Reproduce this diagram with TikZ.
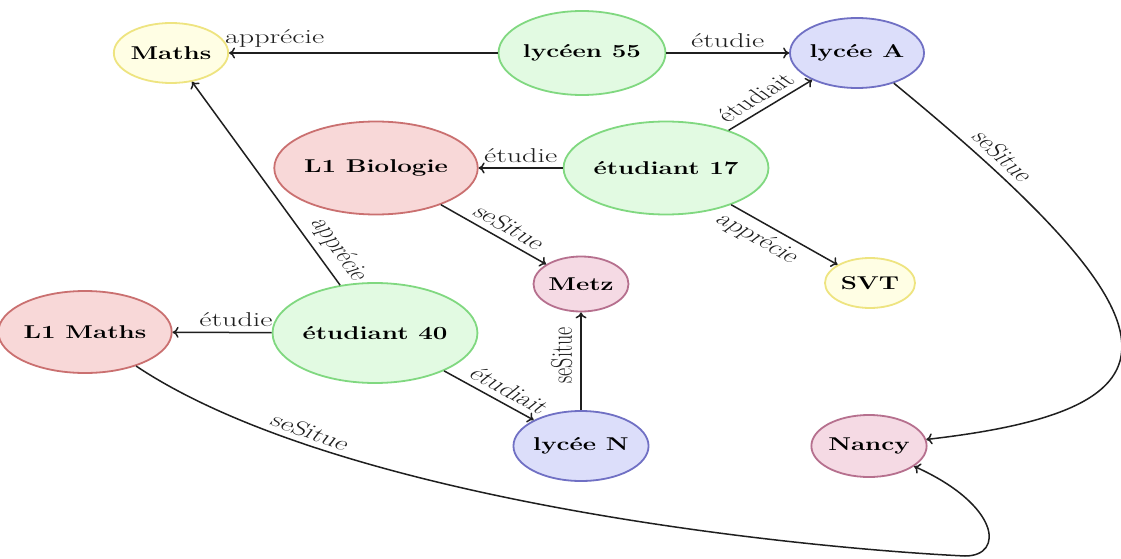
\documentclass[tikz,border=0pt]{standalone}
\usepackage{fontspec}
\setmainfont{Latin Modern Roman}
\newfontfamily\nodefont[FakeStretch=1.4]{Latin Modern Roman}
\newfontfamily\labelfont{Latin Modern Roman}
\usetikzlibrary{shapes.geometric,arrows.meta}

\definecolor{yfill}{RGB}{255,254,228}
\definecolor{ydraw}{RGB}{238,228,128}
\definecolor{gfill}{RGB}{226,250,226}
\definecolor{gdraw}{RGB}{128,216,128}
\definecolor{bfill}{RGB}{220,222,250}
\definecolor{bdraw}{RGB}{112,112,196}
\definecolor{rfill}{RGB}{248,216,216}
\definecolor{rdraw}{RGB}{202,112,112}
\definecolor{pfill}{RGB}{245,218,228}
\definecolor{pdraw}{RGB}{182,112,142}

\tikzset{
  entity/.style={ellipse, line width=1.8pt, inner sep=0pt,
    font=\nodefont\bfseries\fontsize{18.5}{21}\selectfont},
  topic/.style={entity, draw=ydraw, fill=yfill},
  person/.style={entity, draw=gdraw, fill=gfill},
  school/.style={entity, draw=bdraw, fill=bfill},
  course/.style={entity, draw=rdraw, fill=rfill},
  city/.style={entity, draw=pdraw, fill=pfill},
  rel/.style={-{To[length=6pt,width=11pt]}, line width=1.5pt, draw=black!88},
  % edge labels: text widened horizontally, then turned (rotate acts first)
  lab/.style={font=\labelfont\fontsize{20}{23}\selectfont, inner sep=5pt,
    text=black!88, xscale=1.5},
}

\begin{document}
\begin{tikzpicture}[x=1pt, y=-1pt]
\path[use as bounding box, fill=white] (0,0) rectangle (1121,559);

% entities
\node[topic,  minimum width=108pt, minimum height=60pt] (maths) at (171,53)  {Maths};
\node[person, minimum width=149pt, minimum height=84pt] (l55)   at (582,53)  {lycéen 55};
\node[school, minimum width=98pt,  minimum height=70pt] (lA)    at (857,53)  {lycée A};
\node[course, minimum width=172pt, minimum height=93pt] (l1b)   at (376,168) {L1 Biologie};
\node[person, minimum width=168pt, minimum height=93pt] (e17)   at (666,168) {étudiant 17};
\node[city,   minimum width=95pt,  minimum height=55pt] (metz)  at (581,284) {Metz};
\node[topic,  minimum width=90pt,  minimum height=50pt] (svt)   at (870,283) {SVT};
\node[course, minimum width=147pt, minimum height=82pt] (l1m)   at (85,332)  {L1 Maths};
\node[person, minimum width=168pt, minimum height=100pt] (e40)  at (375,333) {étudiant 40};
\node[school, minimum width=124pt, minimum height=70pt] (lN)    at (581,446) {lycée N};
\node[city,   minimum width=112pt, minimum height=62pt] (nancy) at (869,446) {Nancy};

\coordinate (bend) at (965,556);

% relations
\draw[rel] (l55) -- node[lab, above, pos=0.83] {apprécie} (maths);
\draw[rel] (l55) -- node[lab, above] {étudie} (lA);
\draw[rel] (e17) -- node[lab, rotate=42.1, anchor=south, pos=0.47] {étudiait} (lA);
\draw[rel] (e17) -- node[lab, above] {étudie} (l1b);
\draw[rel] (e17) -- node[lab, rotate=-40.2, anchor=north, pos=0.38] {apprécie} (svt);
\draw[rel] (l1b) -- node[lab, rotate=-40.3, anchor=south, pos=0.54] {seSitue} (metz);
\draw[rel] (e40) -- node[lab, rotate=-64.1, anchor=south, pos=0.14] {apprécie} (maths);
\draw[rel] (e40) -- node[lab, above, pos=0.36] {étudie} (l1m);
\draw[rel] (e40) -- node[lab, rotate=-39.4, anchor=south, pos=0.6] {étudiait} (lN);
\draw[rel] (lN) -- node[lab, rotate=90, anchor=south, pos=0.56] {seSitue} (metz);
\draw[rel] (lA) .. controls (1191,327) and (1193,409) ..
  node[lab, rotate=-53.8, anchor=south, pos=0.12] {seSitue} (nancy);
\draw[rel] (l1m) .. controls (340,502) and (800,548) ..
  node[lab, rotate=-27.5, anchor=south, pos=0.22] {seSitue} (bend)
  .. controls (1005,556) and (1000,505) .. (nancy);
\end{tikzpicture}
\end{document}
